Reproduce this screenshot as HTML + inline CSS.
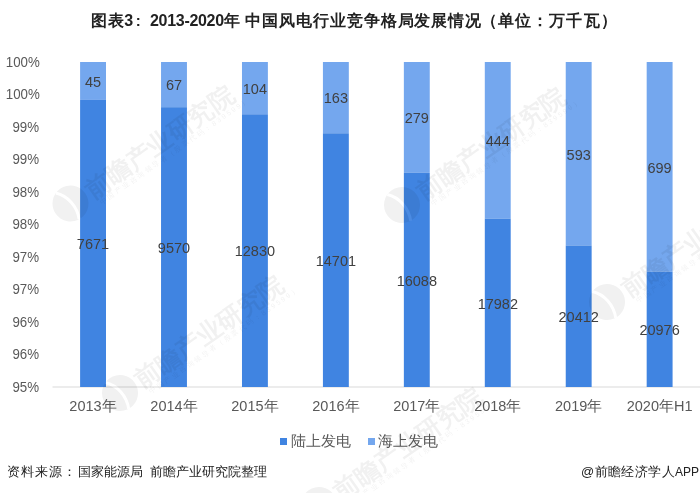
<!DOCTYPE html><html><head><meta charset="utf-8"><style>
html,body{margin:0;padding:0;background:#fff;}
body{width:700px;height:493px;position:relative;overflow:hidden;font-family:"Liberation Sans",sans-serif;}
.wrap{position:absolute;left:0;top:0;width:700px;height:493px;will-change:transform;}
.a{position:absolute;white-space:nowrap;line-height:1;}
svg{position:absolute;left:0;top:0;}
.b{font-weight:bold}
</style></head><body><div class="wrap">
<svg width="700" height="493" viewBox="0 0 700 493"><line x1="52.5" y1="387.0" x2="700" y2="387.0" stroke="#d9d9d9" stroke-width="1.2"/><rect x="80.10" y="62.0" width="25.9" height="37.91" fill="#74a7ee"/><rect x="80.10" y="99.91" width="25.9" height="287.09" fill="#4084e1"/><rect x="161.04" y="62.0" width="25.9" height="45.19" fill="#74a7ee"/><rect x="161.04" y="107.19" width="25.9" height="279.81" fill="#4084e1"/><rect x="241.98" y="62.0" width="25.9" height="52.27" fill="#74a7ee"/><rect x="241.98" y="114.27" width="25.9" height="272.73" fill="#4084e1"/><rect x="322.92" y="62.0" width="25.9" height="71.28" fill="#74a7ee"/><rect x="322.92" y="133.28" width="25.9" height="253.72" fill="#4084e1"/><rect x="403.86" y="62.0" width="25.9" height="110.80" fill="#74a7ee"/><rect x="403.86" y="172.80" width="25.9" height="214.20" fill="#4084e1"/><rect x="484.80" y="62.0" width="25.9" height="156.63" fill="#74a7ee"/><rect x="484.80" y="218.63" width="25.9" height="168.37" fill="#4084e1"/><rect x="565.74" y="62.0" width="25.9" height="183.50" fill="#74a7ee"/><rect x="565.74" y="245.50" width="25.9" height="141.50" fill="#4084e1"/><rect x="646.68" y="62.0" width="25.9" height="209.62" fill="#74a7ee"/><rect x="646.68" y="271.62" width="25.9" height="115.38" fill="#4084e1"/></svg>
<div class="a" style="left:91px;top:13px;font-size:16px;font-weight:bold;color:#222;letter-spacing:0.6px">图表<span style="letter-spacing:-0.3px">3</span><span style="margin-left:3px;font-size:15px">:</span></div>
<div class="a" style="left:150px;top:13px;font-size:16px;font-weight:bold;color:#222;letter-spacing:-0.3px">2013-2020<span style="letter-spacing:0">年</span></div>
<div class="a" style="left:245px;top:13px;font-size:16px;font-weight:bold;color:#222;letter-spacing:0.95px">中国风电行业竞争格局发展情况</div>
<div class="a" style="left:481px;top:13px;font-size:16px;font-weight:bold;color:#222;letter-spacing:1.1px">（单位：万千瓦）</div>
<div class="a" style="right:660.5px;top:54.5px;font-size:14px;color:#595959;transform:scaleX(0.95);transform-origin:right center;">100%</div>
<div class="a" style="right:660.5px;top:87.0px;font-size:14px;color:#595959;transform:scaleX(0.95);transform-origin:right center;">100%</div>
<div class="a" style="right:660.5px;top:119.5px;font-size:14px;color:#595959;transform:scaleX(0.95);transform-origin:right center;">99%</div>
<div class="a" style="right:660.5px;top:152.0px;font-size:14px;color:#595959;transform:scaleX(0.95);transform-origin:right center;">99%</div>
<div class="a" style="right:660.5px;top:184.5px;font-size:14px;color:#595959;transform:scaleX(0.95);transform-origin:right center;">98%</div>
<div class="a" style="right:660.5px;top:217.0px;font-size:14px;color:#595959;transform:scaleX(0.95);transform-origin:right center;">98%</div>
<div class="a" style="right:660.5px;top:249.5px;font-size:14px;color:#595959;transform:scaleX(0.95);transform-origin:right center;">97%</div>
<div class="a" style="right:660.5px;top:282.0px;font-size:14px;color:#595959;transform:scaleX(0.95);transform-origin:right center;">97%</div>
<div class="a" style="right:660.5px;top:314.5px;font-size:14px;color:#595959;transform:scaleX(0.95);transform-origin:right center;">96%</div>
<div class="a" style="right:660.5px;top:347.0px;font-size:14px;color:#595959;transform:scaleX(0.95);transform-origin:right center;">96%</div>
<div class="a" style="right:660.5px;top:379.5px;font-size:14px;color:#595959;transform:scaleX(0.95);transform-origin:right center;">95%</div>
<div class="a" style="left:43.0px;width:100px;text-align:center;top:237.3px;font-size:14.5px;color:#404040;">7671</div>
<div class="a" style="left:43.0px;width:100px;text-align:center;top:74.8px;font-size:14.5px;color:#404040;">45</div>
<div class="a" style="left:43.0px;width:100px;text-align:center;top:398.5px;font-size:14.5px;color:#595959;">2013年</div>
<div class="a" style="left:124.0px;width:100px;text-align:center;top:240.9px;font-size:14.5px;color:#404040;">9570</div>
<div class="a" style="left:124.0px;width:100px;text-align:center;top:78.4px;font-size:14.5px;color:#404040;">67</div>
<div class="a" style="left:124.0px;width:100px;text-align:center;top:398.5px;font-size:14.5px;color:#595959;">2014年</div>
<div class="a" style="left:204.9px;width:100px;text-align:center;top:244.4px;font-size:14.5px;color:#404040;">12830</div>
<div class="a" style="left:204.9px;width:100px;text-align:center;top:81.9px;font-size:14.5px;color:#404040;">104</div>
<div class="a" style="left:204.9px;width:100px;text-align:center;top:398.5px;font-size:14.5px;color:#595959;">2015年</div>
<div class="a" style="left:285.9px;width:100px;text-align:center;top:253.9px;font-size:14.5px;color:#404040;">14701</div>
<div class="a" style="left:285.9px;width:100px;text-align:center;top:91.4px;font-size:14.5px;color:#404040;">163</div>
<div class="a" style="left:285.9px;width:100px;text-align:center;top:398.5px;font-size:14.5px;color:#595959;">2016年</div>
<div class="a" style="left:366.8px;width:100px;text-align:center;top:273.7px;font-size:14.5px;color:#404040;">16088</div>
<div class="a" style="left:366.8px;width:100px;text-align:center;top:111.2px;font-size:14.5px;color:#404040;">279</div>
<div class="a" style="left:366.8px;width:100px;text-align:center;top:398.5px;font-size:14.5px;color:#595959;">2017年</div>
<div class="a" style="left:447.8px;width:100px;text-align:center;top:296.6px;font-size:14.5px;color:#404040;">17982</div>
<div class="a" style="left:447.8px;width:100px;text-align:center;top:134.1px;font-size:14.5px;color:#404040;">444</div>
<div class="a" style="left:447.8px;width:100px;text-align:center;top:398.5px;font-size:14.5px;color:#595959;">2018年</div>
<div class="a" style="left:528.7px;width:100px;text-align:center;top:310.1px;font-size:14.5px;color:#404040;">20412</div>
<div class="a" style="left:528.7px;width:100px;text-align:center;top:147.6px;font-size:14.5px;color:#404040;">593</div>
<div class="a" style="left:528.7px;width:100px;text-align:center;top:398.5px;font-size:14.5px;color:#595959;">2019年</div>
<div class="a" style="left:609.6px;width:100px;text-align:center;top:323.1px;font-size:14.5px;color:#404040;">20976</div>
<div class="a" style="left:609.6px;width:100px;text-align:center;top:160.6px;font-size:14.5px;color:#404040;">699</div>
<div class="a" style="left:609.6px;width:100px;text-align:center;top:398.5px;font-size:14.5px;color:#595959;">2020年H1</div>
<div class="a" style="left:280px;top:437.5px;width:7px;height:7px;background:#4084e1;"></div>
<div class="a" style="left:291px;top:433px;font-size:15px;color:#595959;">陆上发电</div>
<div class="a" style="left:367.5px;top:437.5px;width:7px;height:7px;background:#74a7ee;"></div>
<div class="a" style="left:378px;top:433px;font-size:15px;color:#595959;">海上发电</div>
<div class="a" style="left:7px;top:465px;font-size:13px;color:#222;"><span style="letter-spacing:1.1px">资料来源：</span><span style="letter-spacing:0.2px">国家能源局</span></div>
<div class="a" style="left:150px;top:465px;font-size:13px;color:#222;">前瞻产业研究院整理</div>
<div class="a" style="right:1px;top:465px;font-size:13px;color:#222;"><span style="letter-spacing:0.4px">@前瞻经济学人</span><span style="font-size:12px">APP</span></div>
<svg width="700" height="493" viewBox="0 0 700 493" style="pointer-events:none"><g transform="translate(70.5,203.5) rotate(-35)" opacity="0.055"><circle cx="0" cy="0" r="18" fill="#000"/><path d="M-6,-17 C2,-8 4,6 -2,18" stroke="#fff" stroke-width="3" fill="none"/><text x="20.5" y="9.5" font-size="25" font-weight="bold" fill="#000">前瞻产业研究院</text><text x="25" y="19" font-size="7" letter-spacing="2.1" fill="#000">中国产业咨询领导者（股票代码：839599）</text></g><g transform="translate(120,393) rotate(-35)" opacity="0.055"><circle cx="0" cy="0" r="18" fill="#000"/><path d="M-6,-17 C2,-8 4,6 -2,18" stroke="#fff" stroke-width="3" fill="none"/><text x="20.5" y="9.5" font-size="25" font-weight="bold" fill="#000">前瞻产业研究院</text><text x="25" y="19" font-size="7" letter-spacing="2.1" fill="#000">中国产业咨询领导者（股票代码：839599）</text></g><g transform="translate(402,205) rotate(-35)" opacity="0.055"><circle cx="0" cy="0" r="18" fill="#000"/><path d="M-6,-17 C2,-8 4,6 -2,18" stroke="#fff" stroke-width="3" fill="none"/><text x="20.5" y="9.5" font-size="25" font-weight="bold" fill="#000">前瞻产业研究院</text><text x="25" y="19" font-size="7" letter-spacing="2.1" fill="#000">中国产业咨询领导者（股票代码：839599）</text></g><g transform="translate(607,302) rotate(-35)" opacity="0.055"><circle cx="0" cy="0" r="18" fill="#000"/><path d="M-6,-17 C2,-8 4,6 -2,18" stroke="#fff" stroke-width="3" fill="none"/><text x="20.5" y="9.5" font-size="25" font-weight="bold" fill="#000">前瞻产业研究院</text><text x="25" y="19" font-size="7" letter-spacing="2.1" fill="#000">中国产业咨询领导者（股票代码：839599）</text></g><g transform="translate(319,505) rotate(-35)" opacity="0.055"><circle cx="0" cy="0" r="18" fill="#000"/><path d="M-6,-17 C2,-8 4,6 -2,18" stroke="#fff" stroke-width="3" fill="none"/><text x="20.5" y="9.5" font-size="25" font-weight="bold" fill="#000">前瞻产业研究院</text><text x="25" y="19" font-size="7" letter-spacing="2.1" fill="#000">中国产业咨询领导者（股票代码：839599）</text></g></svg>
</div></body></html>
